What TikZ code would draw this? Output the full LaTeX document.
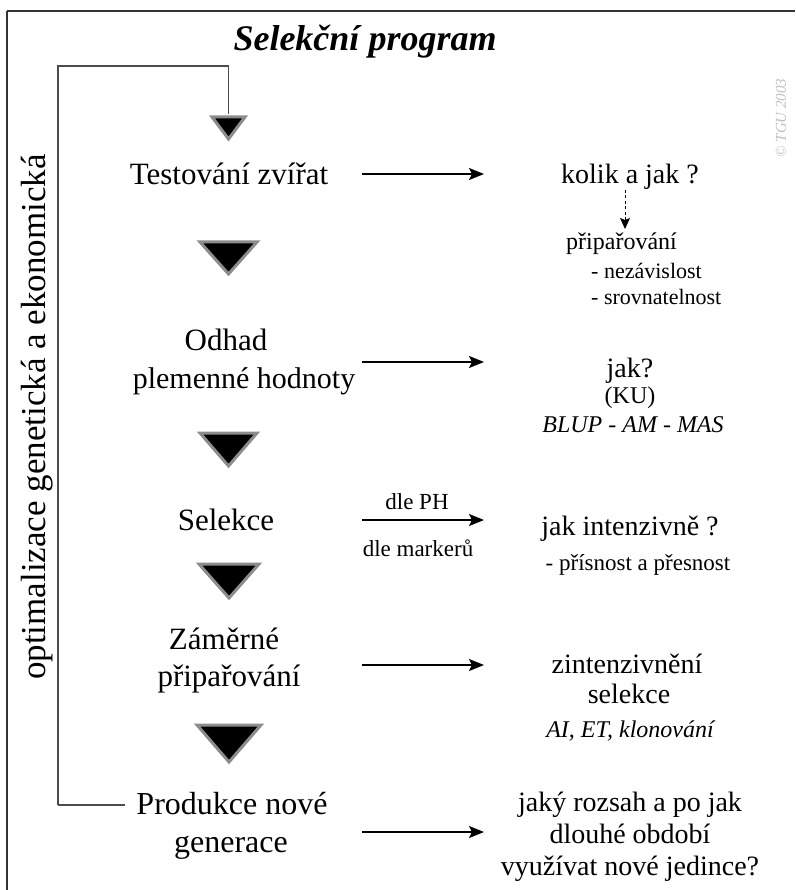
\documentclass[tikz,border=0pt]{standalone}
\usepackage{fontspec}
\setmainfont{Liberation Serif}
\usetikzlibrary{arrows.meta}
\tikzset{
  px/.style={x={(1pt,0)},y={(0,-1pt)}},
  lbl/.style={anchor=base,inner sep=0pt,font=\fontsize{31}{36}\selectfont},
  rbig/.style={anchor=base,inner sep=0pt,font=\fontsize{28}{34}\selectfont},
  rsmall/.style={anchor=base,inner sep=0pt,font=\fontsize{23}{28}\selectfont},
  rsmallL/.style={anchor=base west,inner sep=0pt,font=\fontsize{22}{27}\selectfont},
  ritalic/.style={anchor=base,inner sep=0pt,font=\fontsize{24}{29}\selectfont\itshape},
  flowarrow/.style={line width=1.6pt,-{Stealth[length=15pt,width=12pt,inset=3pt]}},
  dasharrow/.style={line width=1pt,dash pattern=on 3pt off 2.5pt,-{Stealth[length=11pt,width=10pt,inset=2pt]}},
  tri/.style={fill=black,draw=black!45,line width=3pt,line join=miter},
  loopline/.style={line width=1.6pt,draw=black!70},
  frameline/.style={line width=2.2pt,draw=black!80}
}
\begin{document}
\begin{tikzpicture}[px]
\useasboundingbox (0,0) rectangle (795,890);
% frame
\draw[frameline] (7,11) -- (795,11);
\draw[frameline] (7,11) -- (7,890);
% title
\node[anchor=base,inner sep=0pt,font=\fontsize{36}{42}\selectfont\bfseries\itshape] (title) at (365,51) {Selekční program};
% copyright
\node[rotate=90,inner sep=0pt,text=black!25,font=\fontsize{15}{18}\selectfont\itshape] (copy) at (781,118) {© TGU 2003};
% vertical label
\node[rotate=90,inner sep=0pt,font=\fontsize{35}{40}\selectfont] (opt) at (37,417) {optimalizace genetická a ekonomická};
% triangles
\draw[tri] (212,117) -- (245,117) -- (228.5,139) -- cycle;
\draw[tri] (200,242) -- (257,242) -- (228.5,274) -- cycle;
\draw[tri] (200,433) -- (257,433) -- (228.5,466) -- cycle;
\draw[tri] (199,564) -- (259,564) -- (229,598) -- cycle;
\draw[tri] (197,725) -- (261,725) -- (229,762) -- cycle;
% loop line
\coordinate (lp1) at (58,805);
\coordinate (lp2) at (58,66);
\coordinate (lp3) at (228.5,66);
\coordinate (lp4) at (228.5,114);
\draw[loopline] (lp1) -- (125,805);
\draw[loopline] (lp1) -- (lp2) -- (lp3) -- (lp4);
% left column
\node[lbl] (n1) at (229,185) {Testování zvířat};
\node[lbl] (n2a) at (226,350) {Odhad};
\node[lbl,font=\fontsize{30}{36}\selectfont] (n2b) at (244,388) {plemenné hodnoty};
\node[lbl] (n3) at (226,530) {Selekce};
\node[lbl] (n4a) at (224,649) {Záměrné};
\node[lbl] (n4b) at (229,686) {připařování};
\node[lbl,font=\fontsize{32}{38}\selectfont] (n5a) at (232,814) {Produkce nové};
\node[lbl,font=\fontsize{32}{38}\selectfont] (n5b) at (231,852) {generace};
% right column
\node[rbig] (r1) at (630,184) {kolik a jak ?};
\node[anchor=base west,inner sep=0pt,font=\fontsize{24}{29}\selectfont] (r1b) at (566,250) {připařování};
\node[rsmallL] (r1c) at (591,278) {- nezávislost};
\node[rsmallL] (r1d) at (591,304) {- srovnatelnost};
\node[rbig] (r2) at (630,377) {jak?};
\node[anchor=base,inner sep=0pt,font=\fontsize{24}{29}\selectfont] (r2b) at (630,403) {(KU)};
\node[ritalic] (r2c) at (633,432) {BLUP - AM - MAS};
\node[rbig] (r3) at (630,535) {jak intenzivně ?};
\node[rsmall] (r3b) at (638,570) {- přísnost a přesnost};
\node[rbig] (r4) at (627,673) {zintenzivnění};
\node[rbig] (r4b) at (629,703) {selekce};
\node[ritalic] (r4c) at (630,737) {AI, ET, klonování};
\node[rbig] (r5a) at (630,811) {jaký rozsah a po jak};
\node[rbig] (r5b) at (630,843) {dlouhé období};
\node[rbig] (r5c) at (630,875) {využívat nové jedince?};
% arrow labels
\node[rsmall] (dph) at (417,509) {dle PH};
\node[rsmall] (dmk) at (418,556) {dle markerů};
% arrows
\coordinate (a1s) at (362,174); \coordinate (a1e) at (484,174);
\coordinate (a2s) at (362,362); \coordinate (a2e) at (484,362);
\coordinate (a3s) at (362,520); \coordinate (a3e) at (484,520);
\coordinate (a4s) at (362,665); \coordinate (a4e) at (484,665);
\coordinate (a5s) at (362,832); \coordinate (a5e) at (484,832);
\draw[flowarrow] (a1s) -- (a1e);
\draw[flowarrow] (a2s) -- (a2e);
\draw[flowarrow] (a3s) -- (a3e);
\draw[flowarrow] (a4s) -- (a4e);
\draw[flowarrow] (a5s) -- (a5e);
% dashed arrow
\coordinate (ds) at (625,190);
\coordinate (de) at (625,229);
\draw[dasharrow] (ds) -- (de);
\end{tikzpicture}
\end{document}
